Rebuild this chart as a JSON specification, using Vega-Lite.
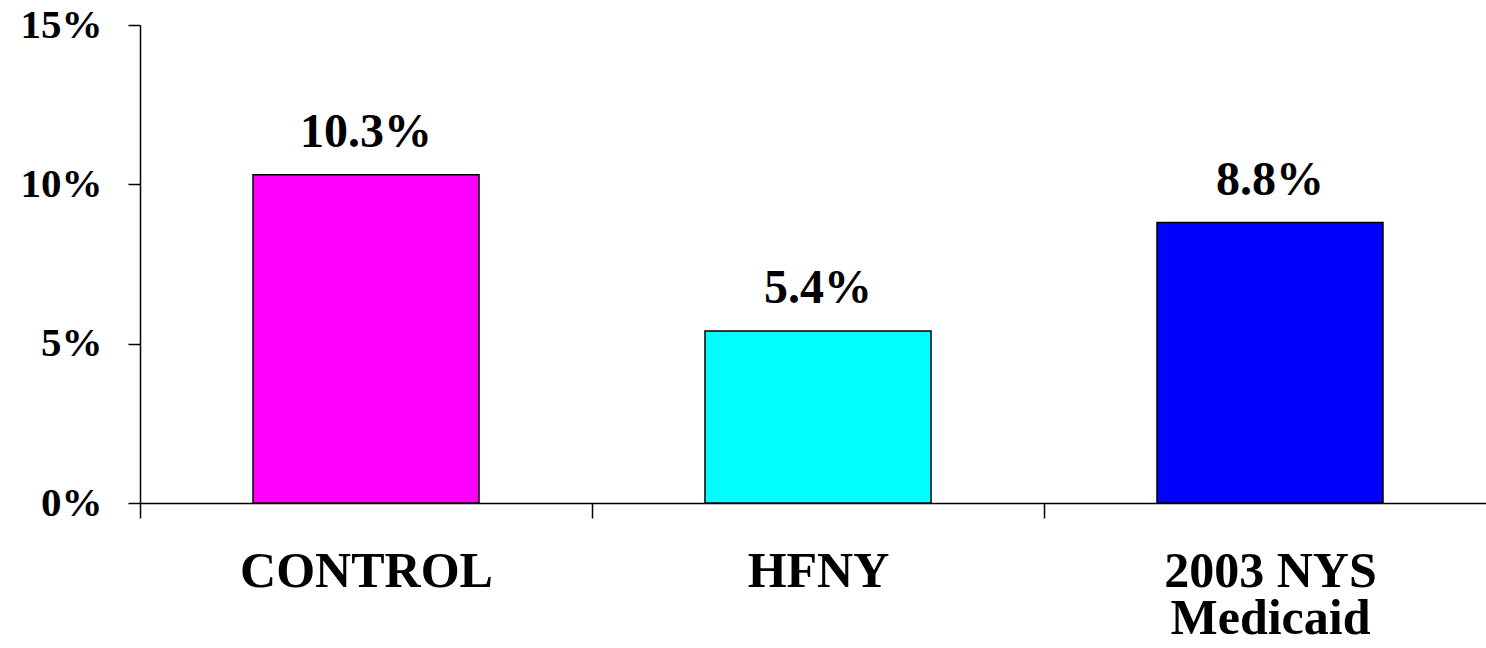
{
  "$schema": "https://vega.github.io/schema/vega-lite/v6.json",
  "autosize": {"type": "none"},
  "padding": {"left": 140, "top": 25, "right": 0, "bottom": 145},
  "width": 1346,
  "height": 478,
  "background": "white",
  "config": {
    "view": {"stroke": null},
    "font": "Liberation Serif"
  },
  "data": {
    "values": [
      {"group": "CONTROL", "rate": 0.103},
      {"group": "HFNY", "rate": 0.054},
      {"group": "2003 NYS Medicaid", "rate": 0.088}
    ]
  },
  "encoding": {
    "x": {
      "field": "group",
      "type": "nominal",
      "sort": null,
      "scale": {"range": [0, 1356], "paddingInner": 0, "paddingOuter": 0},
      "axis": {
        "title": null,
        "labelAngle": 0,
        "labelLimit": 0,
        "tickBand": "extent",
        "tickSize": 15,
        "tickWidth": 1.5,
        "tickColor": "black",
        "domainColor": "black",
        "domainWidth": 1.5,
        "labelFont": "Liberation Serif",
        "labelFontWeight": "bold",
        "labelFontSize": 50,
        "labelColor": "black",
        "labelBaseline": "top",
        "labelPadding": 28,
        "labelLineHeight": 47,
        "labelExpr": "datum.label == '2003 NYS Medicaid' ? ['2003 NYS', 'Medicaid'] : datum.label"
      }
    },
    "y": {
      "field": "rate",
      "type": "quantitative",
      "scale": {"domain": [0, 0.15], "nice": false},
      "axis": {
        "title": null,
        "values": [0, 0.05, 0.1, 0.15],
        "format": ".0%",
        "grid": false,
        "tickSize": 12,
        "tickWidth": 1.5,
        "tickColor": "black",
        "domainColor": "black",
        "domainWidth": 1.5,
        "labelFont": "Liberation Serif",
        "labelFontWeight": "bold",
        "labelFontSize": 41,
        "labelColor": "black",
        "labelLimit": 0,
        "labelPadding": 26
      }
    }
  },
  "layer": [
    {
      "mark": {"type": "bar", "width": {"band": 0.5}, "stroke": "black", "strokeWidth": 1.5},
      "encoding": {
        "color": {
          "field": "group",
          "type": "nominal",
          "scale": {"domain": ["CONTROL", "HFNY", "2003 NYS Medicaid"], "range": ["#FF00FF", "#00FFFF", "#0000FF"]},
          "legend": null
        }
      }
    },
    {
      "mark": {"type": "text", "baseline": "alphabetic", "dy": -28, "fontSize": 48, "fontWeight": "bold", "font": "Liberation Serif", "color": "black"},
      "encoding": {
        "text": {"field": "rate", "type": "quantitative", "format": ".1%"}
      }
    }
  ]
}
